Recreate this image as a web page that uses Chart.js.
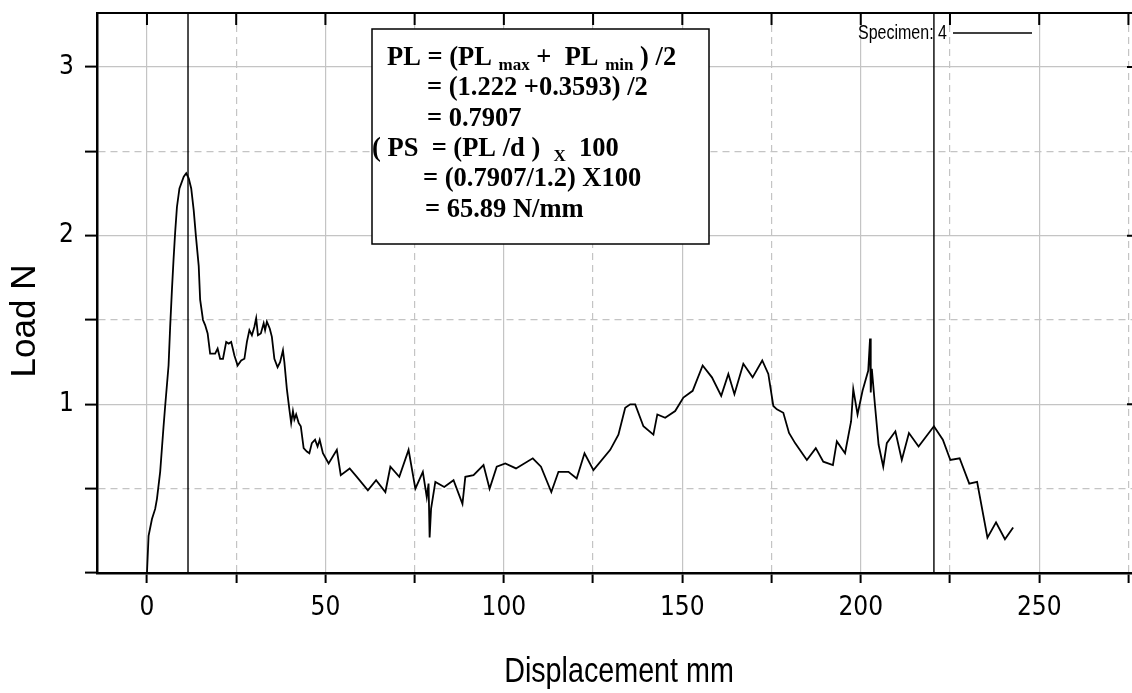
<!DOCTYPE html>
<html>
<head>
<meta charset="utf-8">
<title>Load - Displacement</title>
<script src="https://cdn.jsdelivr.net/npm/chart.js@4.4.0/dist/chart.umd.min.js"></script>
<style>
  body { margin: 0; background: #fff; }
  canvas { display: block; }
</style>
</head>
<body>
<canvas id="myChart" width="1132" height="693"></canvas>
<script>
// Data //
const displacement = [
  0, 0.45, 1.4, 2.3, 2.8, 3.7, 4.65, 5.1, 6.05, 6.5, 7.0, 7.45, 7.9, 8.4, 9.1, 10.3, 11.0, 11.7, 12.4, 13.1,
  13.7, 14.5, 14.9, 15.7, 16.3, 17.0, 17.7, 19.1, 19.8, 20.5, 21.3, 22.2, 22.9, 23.6, 24.5, 25.4, 26.4, 27.3, 28.0, 28.7,
  29.4, 30.1, 30.6, 31.1, 31.9, 32.7, 33.1, 33.6, 34.4, 35.0, 35.7, 36.6, 37.3, 38.1, 38.5, 39.2, 39.9, 40.4, 40.9, 41.3,
  41.8, 42.5, 43.1, 43.9, 44.8, 45.5, 46.2, 47.1, 47.8, 48.4, 49.3, 50.9, 53.2, 54.3, 56.8, 58.8, 61.9, 64.2, 66.8, 68.2,
  70.7, 73.3, 75.2, 77.3, 78.4, 78.9, 79.2, 79.6, 80.8, 83.3, 85.9, 88.4, 89.2, 91.5, 94.3, 96.0, 98.0, 100.4, 103.4, 108.1,
  110.4, 113.3, 115.3, 118.1, 120.4, 122.6, 125.1, 129.8, 132.1, 134.0, 135.4, 136.8, 139.1, 141.9, 143.0, 145.2, 148.0, 150.3, 152.9, 155.7,
  158.3, 160.9, 162.9, 164.6, 167.1, 169.7, 172.4, 174.1, 175.5, 176.5, 178.3, 179.9, 181.6, 184.9, 187.4, 189.5, 192.2, 193.3, 195.6, 197.3,
  197.9, 199.1, 200.5, 202.1, 202.6, 202.8, 203.1, 204.0, 205.0, 206.3, 207.3, 209.7, 211.5, 213.5, 216.2, 220.5, 223.0, 225.1, 227.7, 230.4,
  232.6, 235.5, 237.9, 240.4, 242.7
];
const load = [
  0, 0.22, 0.32, 0.38, 0.44, 0.6, 0.87, 0.99, 1.23, 1.46, 1.68, 1.86, 2.02, 2.17, 2.28, 2.35, 2.37, 2.34, 2.28, 2.15,
  2.0, 1.82, 1.62, 1.50, 1.47, 1.42, 1.30, 1.30, 1.33, 1.27, 1.27, 1.37, 1.36, 1.37, 1.29, 1.23, 1.26, 1.27, 1.37, 1.44,
  1.41, 1.46, 1.51, 1.41, 1.42, 1.48, 1.44, 1.49, 1.45, 1.40, 1.27, 1.22, 1.25, 1.32, 1.25, 1.09, 0.97, 0.89, 0.96, 0.91,
  0.94, 0.89, 0.87, 0.74, 0.72, 0.71, 0.77, 0.79, 0.75, 0.79, 0.71, 0.65, 0.73, 0.58, 0.62, 0.57, 0.49, 0.55, 0.48, 0.63,
  0.57, 0.73, 0.50, 0.60, 0.45, 0.53, 0.21, 0.38, 0.54, 0.51, 0.55, 0.41, 0.57, 0.58, 0.64, 0.50, 0.63, 0.65, 0.62, 0.68,
  0.63, 0.48, 0.60, 0.60, 0.56, 0.71, 0.61, 0.73, 0.82, 0.98, 1.0, 1.0, 0.87, 0.82, 0.94, 0.92, 0.96, 1.04, 1.08, 1.23,
  1.16, 1.05, 1.18, 1.06, 1.24, 1.16, 1.26, 1.18, 0.99, 0.97, 0.95, 0.83, 0.77, 0.67, 0.74, 0.66, 0.64, 0.78, 0.71, 0.90,
  1.09, 0.94, 1.08, 1.20, 1.39, 1.07, 1.21, 0.99, 0.76, 0.63, 0.77, 0.84, 0.67, 0.83, 0.75, 0.87, 0.79, 0.67, 0.68, 0.53,
  0.54, 0.21, 0.30, 0.20, 0.27
];

// Cursor lines (PL max / PL min positions)
const markerX = [11.5, 220.5];

// Axis ranges and labelled ticks
const xRange = [-14, 276];
const yRange = [0, 3.32];
const xLabels = [0, 50, 100, 150, 200, 250];
const yLabels = [1, 2, 3];

const xTitle = "Displacement mm";
const yTitle = "Load N";
const legendText = "Specimen: 4";
const boxLines = [
  [{ t: "PL = (PL " }, { t: "max", sub: true }, { t: " +  PL " }, { t: "min", sub: true }, { t: " ) /2" }],
  [{ t: "= (1.222 +0.3593) /2" }],
  [{ t: "= 0.7907" }],
  [{ t: "( PS  = (PL /d )  " }, { t: "X", sub: true }, { t: "  100" }],
  [{ t: "= (0.7907/1.2) X100" }],
  [{ t: "= 65.89 N/mm" }]
];
const boxLineX = [387, 427, 427, 372, 423, 425];

const tickFont = "'Liberation Sans Narrow', 'DejaVu Sans Condensed', sans-serif";

// Build points
const curvePoints = displacement.map((d, i) => ({ x: d, y: load[i] }));
const markerSets = markerX.map(m => ({
  data: [{ x: m, y: yRange[0] }, { x: m, y: yRange[1] }],
  showLine: true,
  borderColor: "#000",
  borderWidth: 1.4,
  pointRadius: 0
}));

// narrow text: Liberation Sans squeezed horizontally
function narrowText(ctx, text, x, y, size, squeeze, rotate) {
  ctx.save();
  ctx.translate(x, y);
  if (rotate) ctx.rotate(-Math.PI / 2);
  ctx.scale(squeeze, 1);
  ctx.font = size + "px 'Liberation Sans', Arial, sans-serif";
  ctx.fillText(text, 0, 0);
  ctx.restore();
}

// Frame, annotation box, legend and axis titles
const extrasPlugin = {
  id: "extras",
  afterDraw(chart) {
    const ctx = chart.ctx;
    const area = chart.chartArea;
    const xScale = chart.scales.x;
    const yScale = chart.scales.y;
    ctx.save();

    // top frame line + inner ticks
    ctx.strokeStyle = "#000";
    ctx.lineWidth = 2;
    ctx.beginPath();
    ctx.moveTo(area.left, area.top);
    ctx.lineTo(area.right, area.top);
    xScale.ticks.forEach(t => {
      const px = xScale.getPixelForValue(t.value);
      ctx.moveTo(px, area.top);
      ctx.lineTo(px, area.top + 12);
    });
    yScale.ticks.forEach(t => {
      if (yLabels.includes(t.value)) {
        const py = yScale.getPixelForValue(t.value);
        ctx.moveTo(area.right - 5, py);
        ctx.lineTo(area.right, py);
      }
    });
    ctx.stroke();

    // legend
    ctx.fillStyle = "#000";
    ctx.textAlign = "left";
    ctx.textBaseline = "middle";
    narrowText(ctx, legendText, 858, 33, 20, 0.8, false);
    ctx.lineWidth = 1.5;
    ctx.beginPath();
    ctx.moveTo(953, 33);
    ctx.lineTo(1032, 33);
    ctx.stroke();

    // annotation box
    ctx.fillStyle = "#fff";
    ctx.fillRect(372, 29, 337, 215);
    ctx.lineWidth = 1.5;
    ctx.strokeRect(372, 29, 337, 215);
    ctx.fillStyle = "#000";
    ctx.textBaseline = "alphabetic";
    boxLines.forEach((parts, i) => {
      let x = boxLineX[i];
      const y = 65 + i * 30.3;
      parts.forEach(p => {
        ctx.font = p.sub ? "bold 17px 'Liberation Serif'" : "bold 26.5px 'Liberation Serif'";
        ctx.fillText(p.t, x, p.sub ? y + 5 : y);
        x += ctx.measureText(p.t).width;
      });
    });

    // axis titles
    ctx.textAlign = "center";
    ctx.textBaseline = "alphabetic";
    narrowText(ctx, xTitle, 619, 682, 35, 0.82, false);
    ctx.textBaseline = "middle";
    narrowText(ctx, yTitle, 25, 321, 35, 1, true);
    ctx.restore();
  }
};

const canvas = document.getElementById("myChart");
const myChart = new Chart(canvas.getContext("2d"), {
  type: "scatter",
  data: {
    datasets: [
      {
        label: legendText,
        data: curvePoints,
        showLine: true,
        borderColor: "#000",
        borderWidth: 1.8,
        pointRadius: 0,
        tension: 0
      },
      ...markerSets
    ]
  },
  options: {
    responsive: false,
    animation: false,
    devicePixelRatio: 1,
    layout: { padding: { top: 13, right: 0, left: 0, bottom: 0 } },
    plugins: {
      legend: { display: false },
      tooltip: { enabled: false }
    },
    scales: {
      x: {
        type: "linear",
        min: xRange[0],
        max: xRange[1],
        afterFit: (scale) => {
          scale.height = 120;
          scale.paddingLeft = 0;
          scale.paddingRight = 0;
        },
        border: {
          color: "#000",
          width: 2.5,
          dash: (c) => (c.tick && c.tick.value % 50 !== 0) ? [7, 5] : []
        },
        grid: {
          color: "#c4c4c4",
          lineWidth: 1.2,
          tickColor: "#000",
          tickWidth: 2,
          tickLength: 10
        },
        ticks: {
          stepSize: 25,
          includeBounds: false,
          autoSkip: false,
          maxRotation: 0,
          padding: 10,
          color: "#000",
          font: { family: tickFont, size: 26 },
          callback: (v) => xLabels.includes(v) ? String(v) : ""
        }
      },
      y: {
        type: "linear",
        min: yRange[0],
        max: yRange[1],
        afterFit: (scale) => {
          scale.width = 97;
          scale.paddingTop = 0;
          scale.paddingBottom = 0;
        },
        border: {
          color: "#000",
          width: 2.5,
          dash: (c) => (c.tick && c.tick.value % 1 !== 0) ? [7, 5] : []
        },
        grid: {
          color: "#c4c4c4",
          lineWidth: 1.2,
          tickColor: "#000",
          tickWidth: 2,
          tickLength: 12
        },
        ticks: {
          stepSize: 0.5,
          includeBounds: false,
          autoSkip: false,
          padding: 11,
          color: "#000",
          font: { family: tickFont, size: 26 },
          callback: (v) => yLabels.includes(v) ? String(v) : ""
        }
      }
    }
  },
  plugins: [extrasPlugin]
});
</script>
</body>
</html>
